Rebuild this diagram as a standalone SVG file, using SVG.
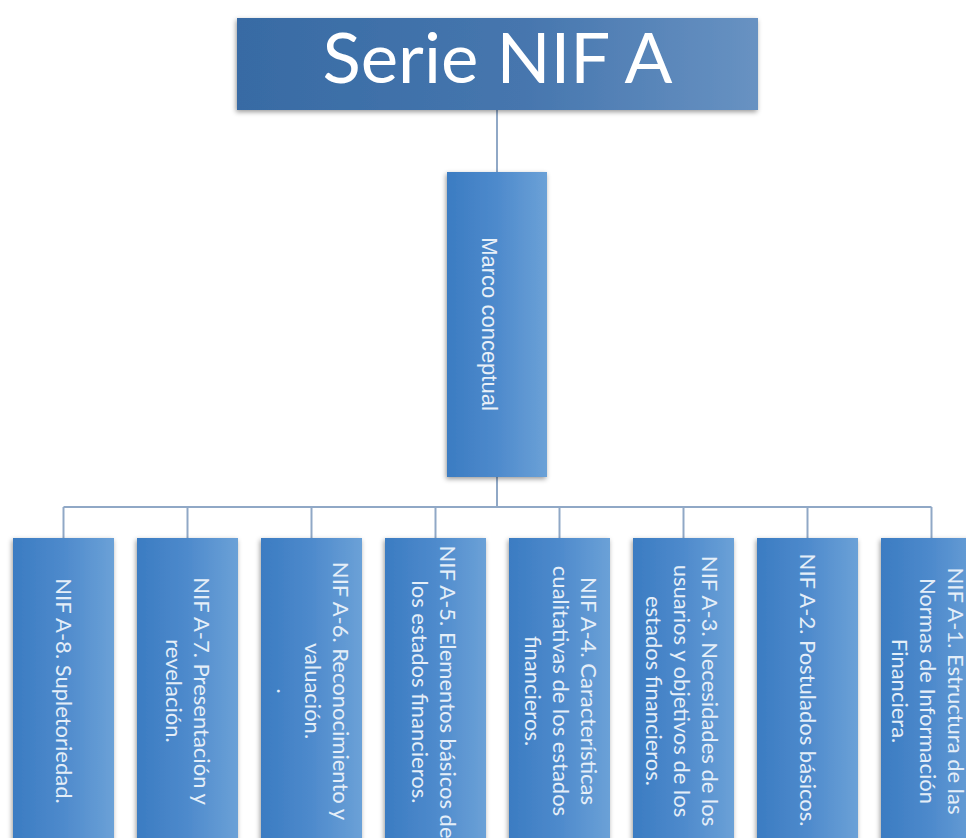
<svg xmlns="http://www.w3.org/2000/svg" width="966" height="838" viewBox="0 0 966 838">
  <defs>
    <linearGradient id="gTitle" x1="0" y1="0" x2="1" y2="0">
      <stop offset="0" stop-color="#386BA4"/>
      <stop offset="0.55" stop-color="#4676AE"/>
      <stop offset="1" stop-color="#6892C2"/>
    </linearGradient>
    <linearGradient id="gBox" x1="0" y1="0" x2="1" y2="0">
      <stop offset="0" stop-color="#3B7CC2"/>
      <stop offset="0.5" stop-color="#4E8ACC"/>
      <stop offset="1" stop-color="#6BA1D7"/>
    </linearGradient>
    <filter id="shadow" x="-20%" y="-20%" width="140%" height="140%">
      <feDropShadow dx="-1" dy="2" stdDeviation="2.5" flood-color="#000" flood-opacity="0.4"/>
    </filter>
  </defs>
  <style>
    .conn { fill: none; stroke: #90A8C6; stroke-width: 2; }
    .box { fill: url(#gBox); filter: url(#shadow); }
    .title { fill: url(#gTitle); filter: url(#shadow); }
    .lbl { font-family: Lato, "Open Sans", sans-serif; font-size: 22px; fill: #E4EEF8; text-anchor: middle; }
    .mid { font-family: "Liberation Sans", Arial, sans-serif; font-size: 22px; fill: #E8F0F8; text-anchor: middle; }
    .ttl { font-family: Lato, "Open Sans", sans-serif; font-size: 70px; fill: #FFFFFF; text-anchor: middle; }
  </style>
  <rect width="966" height="838" fill="#FFFFFF"/>

  <g id="connectors">
    <line class="conn" x1="497" y1="110" x2="497" y2="172"/>
    <line class="conn" x1="497" y1="477" x2="497" y2="507"/>
    <line class="conn" x1="63.5" y1="507" x2="931.5" y2="507"/>
    <line class="conn" x1="63.5" y1="507" x2="63.5" y2="538"/>
    <line class="conn" x1="187.5" y1="507" x2="187.5" y2="538"/>
    <line class="conn" x1="311.5" y1="507" x2="311.5" y2="538"/>
    <line class="conn" x1="435.5" y1="507" x2="435.5" y2="538"/>
    <line class="conn" x1="559.5" y1="507" x2="559.5" y2="538"/>
    <line class="conn" x1="683.5" y1="507" x2="683.5" y2="538"/>
    <line class="conn" x1="807.5" y1="507" x2="807.5" y2="538"/>
    <line class="conn" x1="931.5" y1="507" x2="931.5" y2="538"/>
  </g>

  <g id="serie-nif-a">
    <rect class="title" x="237" y="18" width="521" height="92"/>
    <text class="ttl" x="497.5" y="83" textLength="350" lengthAdjust="spacingAndGlyphs">Serie NIF A</text>
  </g>

  <g id="marco-conceptual">
    <rect class="box" x="447" y="172" width="100" height="305"/>
    <text class="mid" transform="translate(497,324) rotate(90)" x="0" y="15">Marco conceptual</text>
  </g>

  <g id="nif-a8">
    <rect class="box" x="13" y="538" width="101" height="320"/>
    <text class="lbl" transform="translate(63.5,691) rotate(90)"><tspan x="0" y="8">NIF A-8. Supletoriedad.</tspan></text>
  </g>

  <g id="nif-a7">
    <rect class="box" x="137" y="538" width="101" height="320"/>
    <text class="lbl" transform="translate(187.5,691) rotate(90)"><tspan x="0" y="-6">NIF A-7. Presentación y</tspan><tspan x="0" y="22">revelación.</tspan></text>
  </g>

  <g id="nif-a6">
    <rect class="box" x="261" y="538" width="101" height="320"/>
    <text class="lbl" transform="translate(312.5,691) rotate(90)"><tspan x="0" y="-20">NIF A-6. Reconocimiento y</tspan><tspan x="0" y="8">valuación.</tspan><tspan x="0" y="36">.</tspan></text>
  </g>

  <g id="nif-a5">
    <rect class="box" x="385" y="538" width="101" height="320"/>
    <text class="lbl" transform="translate(433.5,692) rotate(90)"><tspan x="0" y="-6">NIF A-5. Elementos básicos de</tspan><tspan x="0" y="22">los estados financieros.</tspan></text>
  </g>

  <g id="nif-a4">
    <rect class="box" x="509" y="538" width="101" height="320"/>
    <text class="lbl" transform="translate(560.5,691) rotate(90)"><tspan x="0" y="-20">NIF A-4. Características</tspan><tspan x="0" y="8">cualitativas de los estados</tspan><tspan x="0" y="36">financieros.</tspan></text>
  </g>

  <g id="nif-a3">
    <rect class="box" x="633" y="538" width="101" height="320"/>
    <text class="lbl" transform="translate(681.5,691) rotate(90)"><tspan x="0" y="-20">NIF A-3. Necesidades de los</tspan><tspan x="0" y="8">usuarios y objetivos de los</tspan><tspan x="0" y="36">estados financieros.</tspan></text>
  </g>

  <g id="nif-a2">
    <rect class="box" x="757" y="538" width="101" height="320"/>
    <text class="lbl" transform="translate(807.5,690) rotate(90)"><tspan x="0" y="8">NIF A-2. Postulados básicos.</tspan></text>
  </g>

  <g id="nif-a1">
    <rect class="box" x="881" y="538" width="101" height="320"/>
    <text class="lbl" transform="translate(927.5,691) rotate(90)"><tspan x="0" y="-20">NIF A-1. Estructura de las</tspan><tspan x="0" y="8">Normas de Información</tspan><tspan x="0" y="36">Financiera.</tspan></text>
  </g>
</svg>
